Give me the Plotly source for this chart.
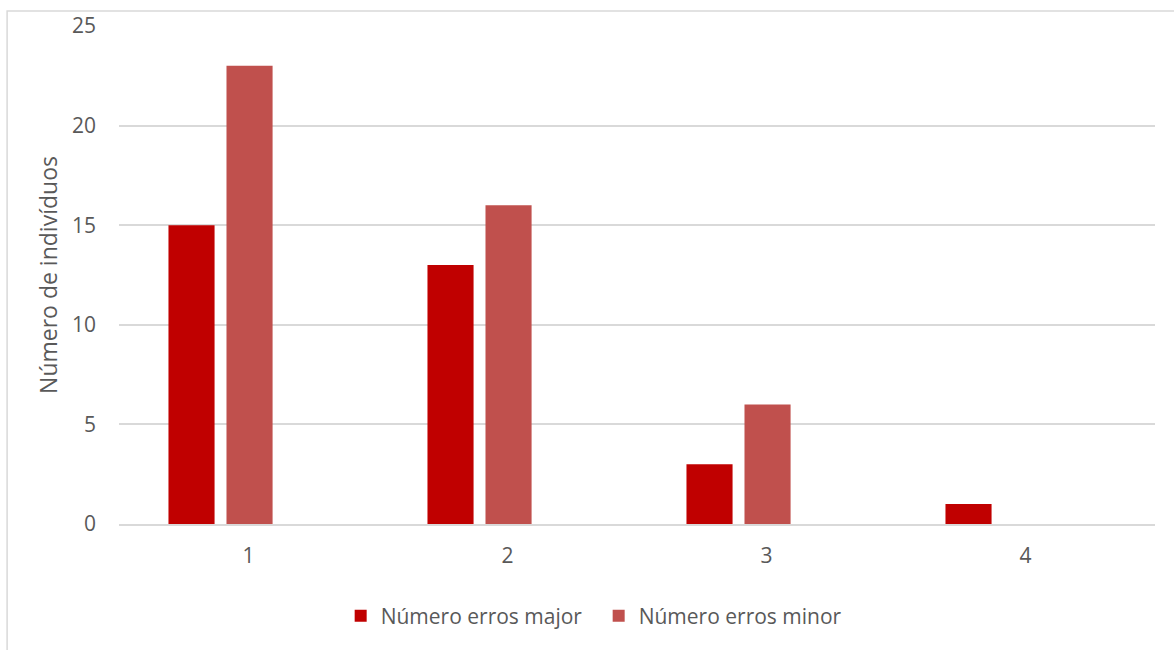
import plotly.graph_objects as go

# Número de erros por indivíduo
categorias = ["1", "2", "3", "4"]
erros_major = [15, 13, 3, 1]
erros_minor = [23, 16, 6, 0]

cor_major = "#c00000"
cor_minor = "#c0504d"
texto = "#595959"
fonte = "Open Sans"

fig = go.Figure()
fig.add_trace(go.Bar(
    x=categorias, y=erros_major, name="Número erros major",
    marker=dict(color=cor_major, line=dict(width=0)),
    width=0.178, offset=-0.309,
))
fig.add_trace(go.Bar(
    x=categorias, y=erros_minor, name="Número erros minor",
    marker=dict(color=cor_minor, line=dict(width=0)),
    width=0.178, offset=-0.085,
))

fig.update_layout(
    width=1174, height=650,
    margin=dict(l=119, r=19, t=26, b=126),
    paper_bgcolor="white", plot_bgcolor="white",
    barmode="overlay",
    font=dict(family=fonte, size=21, color=texto),
    showlegend=True,
    legend=dict(
        orientation="h", x=0.463, xanchor="center", y=-0.185, yanchor="middle",
        font=dict(family=fonte, size=21, color=texto),
        itemwidth=30, traceorder="normal", entrywidth=213,
    ),
    xaxis=dict(
        type="category", showgrid=False, showline=True, linecolor="#d9d9d9",
        linewidth=2, ticks="", tickfont=dict(size=21, color=texto),
        ticklabelstandoff=12,
    ),
    yaxis=dict(
        range=[0, 25], dtick=5, showgrid=True, gridcolor="#d9d9d9",
        gridwidth=1.5, zeroline=False, showline=False, ticks="",
        tickfont=dict(size=21, color=texto), ticklabelstandoff=22,
        title=dict(text="Número de indivíduos", font=dict(size=23, color=texto),
                   standoff=7),
    ),
    shapes=[dict(
        type="rect", xref="paper", yref="paper",
        x0=-0.108, x1=1.05, y0=-0.32, y1=1.03,
        line=dict(color="#d9d9d9", width=1.5), fillcolor="rgba(0,0,0,0)",
        layer="below",
    )],
)

fig.write_html("out.html")
